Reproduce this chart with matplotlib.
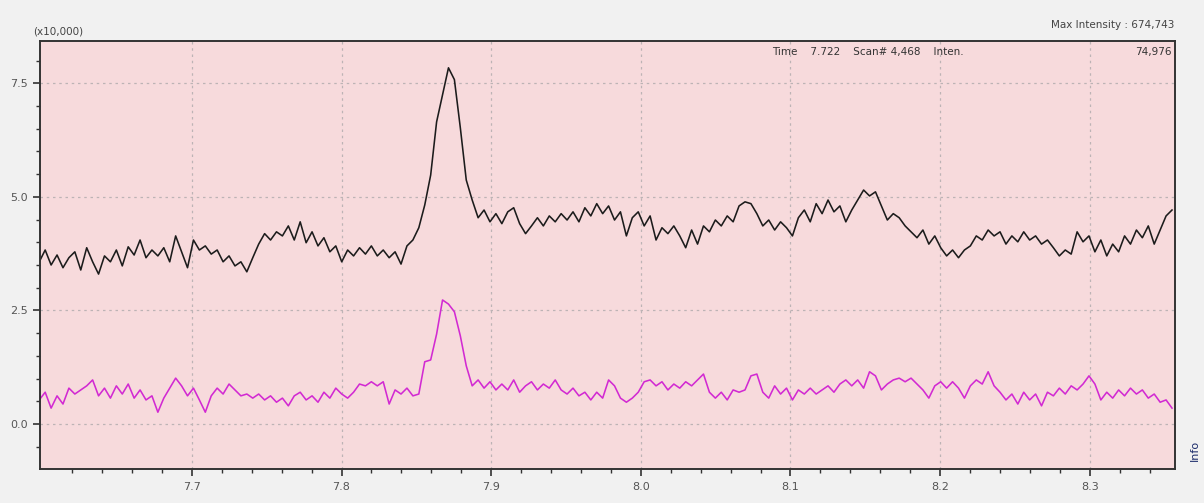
import matplotlib
matplotlib.use("Agg")
import matplotlib.pyplot as plt
import numpy as np

# retention time window (min) and scan grid
t_start = 7.598
t_stop = 8.355

# TIC-like trace, black (x10,000)
black_trace = [
    3.57, 3.83, 3.50, 3.72, 3.44, 3.66, 3.79, 3.39, 3.88, 3.57,
    3.30, 3.70, 3.57, 3.83, 3.48, 3.90, 3.72, 4.05, 3.66, 3.83,
    3.70, 3.88, 3.57, 4.14, 3.79, 3.44, 4.05, 3.83, 3.92, 3.74,
    3.83, 3.57, 3.70, 3.48, 3.57, 3.35, 3.66, 3.96, 4.19, 4.05,
    4.23, 4.14, 4.36, 4.05, 4.45, 3.99, 4.23, 3.92, 4.10, 3.79,
    3.92, 3.57, 3.83, 3.70, 3.88, 3.74, 3.92, 3.70, 3.83, 3.66,
    3.79, 3.52, 3.92, 4.05, 4.32, 4.82, 5.48, 6.65, 7.25, 7.84,
    7.58, 6.52, 5.37, 4.93, 4.54, 4.71, 4.45, 4.63, 4.41, 4.67,
    4.76, 4.41, 4.19, 4.36, 4.54, 4.36, 4.58, 4.45, 4.63, 4.49,
    4.67, 4.45, 4.76, 4.58, 4.85, 4.63, 4.80, 4.49, 4.67, 4.14,
    4.54, 4.67, 4.36, 4.58, 4.05, 4.32, 4.19, 4.36, 4.14, 3.88,
    4.27, 3.96, 4.36, 4.23, 4.49, 4.36, 4.58, 4.45, 4.80, 4.89,
    4.85, 4.63, 4.36, 4.49, 4.27, 4.45, 4.32, 4.14, 4.54, 4.71,
    4.45, 4.85, 4.63, 4.93, 4.67, 4.80, 4.45, 4.71, 4.93, 5.15,
    5.02, 5.11, 4.80, 4.49, 4.63, 4.54, 4.36, 4.23, 4.10, 4.27,
    3.96, 4.14, 3.88, 3.70, 3.83, 3.66, 3.83, 3.92, 4.14, 4.05,
    4.27, 4.14, 4.23, 3.96, 4.14, 4.01, 4.23, 4.05, 4.14, 3.96,
    4.05, 3.88, 3.70, 3.83, 3.74, 4.23, 4.01, 4.14, 3.79, 4.05,
    3.70, 3.96, 3.79, 4.14, 3.96, 4.27, 4.10, 4.36, 3.96, 4.27,
    4.58, 4.71,
]

# selected ion trace, magenta (x10,000)
magenta_trace = [
    0.53, 0.70, 0.35, 0.62, 0.44, 0.79, 0.66, 0.75, 0.84, 0.97,
    0.62, 0.79, 0.57, 0.84, 0.66, 0.88, 0.57, 0.75, 0.53, 0.62,
    0.26, 0.57, 0.79, 1.01, 0.84, 0.62, 0.79, 0.53, 0.26, 0.62,
    0.79, 0.66, 0.88, 0.75, 0.62, 0.66, 0.57, 0.66, 0.53, 0.62,
    0.48, 0.57, 0.40, 0.62, 0.70, 0.53, 0.62, 0.48, 0.70, 0.57,
    0.79, 0.66, 0.57, 0.70, 0.88, 0.84, 0.93, 0.84, 0.93, 0.44,
    0.75, 0.66, 0.79, 0.62, 0.66, 1.37, 1.41, 1.98, 2.73, 2.64,
    2.47, 1.94, 1.28, 0.84, 0.97, 0.79, 0.93, 0.75, 0.88, 0.75,
    0.97, 0.70, 0.84, 0.93, 0.75, 0.88, 0.79, 0.97, 0.75, 0.66,
    0.79, 0.62, 0.70, 0.53, 0.70, 0.57, 0.97, 0.84, 0.57, 0.48,
    0.57, 0.70, 0.93, 0.97, 0.84, 0.93, 0.75, 0.88, 0.79, 0.93,
    0.84, 0.97, 1.10, 0.70, 0.57, 0.70, 0.53, 0.75, 0.70, 0.75,
    1.06, 1.10, 0.70, 0.57, 0.84, 0.66, 0.79, 0.53, 0.75, 0.66,
    0.79, 0.66, 0.75, 0.84, 0.70, 0.88, 0.97, 0.84, 0.97, 0.79,
    1.15, 1.06, 0.75, 0.88, 0.97, 1.01, 0.93, 1.01, 0.88, 0.75,
    0.57, 0.84, 0.93, 0.79, 0.93, 0.79, 0.57, 0.84, 0.97, 0.88,
    1.15, 0.84, 0.70, 0.53, 0.66, 0.44, 0.70, 0.53, 0.66, 0.40,
    0.70, 0.62, 0.79, 0.66, 0.84, 0.75, 0.88, 1.06, 0.88, 0.53,
    0.70, 0.57, 0.75, 0.62, 0.79, 0.66, 0.75, 0.57, 0.66, 0.48,
    0.53, 0.35,
]

x_major = [7.7, 7.8, 7.9, 8.0, 8.1, 8.2, 8.3]
y_major = [0.0, 2.5, 5.0, 7.5]

times = np.linspace(t_start, t_stop, len(black_trace))

fig = plt.figure(figsize=(12.04, 5.03), dpi=100, facecolor="#f1f1f1")
ax = fig.add_axes([40 / 1204, 34 / 503, 1135 / 1204, 428 / 503])
ax.set_facecolor("#f7dadc")

ax.plot(times, black_trace, color="#1c1c1c", lw=1.15)
ax.plot(times, magenta_trace, color="#d22ad2", lw=1.15)

ax.set_xlim(7.5985, 8.357)
ax.set_ylim(-0.99, 8.43)
ax.set_xticks(x_major)
ax.set_xticklabels([f"{v:.1f}" for v in x_major])
ax.set_xticks(np.arange(7.62, 8.36, 0.02), minor=True)
ax.set_yticks(y_major)
ax.set_yticklabels([f"{v:.1f}" for v in y_major])
ax.set_yticks(np.arange(-0.5, 8.4, 0.5), minor=True)

# dotted grid on the major ticks only
ax.grid(True, which="major", color="#bdb3b5", linestyle=(0, (2, 3)), lw=0.9)
ax.tick_params(which="major", length=5, width=1.2, color="#333333",
               labelsize=8, labelcolor="#555555", pad=4)
ax.tick_params(which="minor", length=3, width=1.0, color="#333333")
for side in ax.spines.values():
    side.set_color("#333333")
    side.set_linewidth(1.4)

# cursor readout inside the plot
ax.text((772 - 40) / 1135, 0.985, "Time    7.722    Scan# 4,468    Inten.",
        transform=ax.transAxes, ha="left", va="top", fontsize=7.5, color="#333333")
ax.text(0.997, 0.985, "74,976", transform=ax.transAxes, ha="right", va="top",
        fontsize=7.5, color="#333333")

fig.text(33 / 1204, 1 - 31 / 503, "(x10,000)", ha="left", va="center",
         fontsize=7.5, color="#444444")
fig.text(1174 / 1204, 1 - 25 / 503, "Max Intensity : 674,743", ha="right",
         va="center", fontsize=7.5, color="#444444")
fig.text(1195 / 1204, 1 - 450 / 503, "Info", rotation=90, ha="center",
         va="center", fontsize=8, color="#1a2a6a")

fig.savefig("out.png", dpi=100, facecolor=fig.get_facecolor())
